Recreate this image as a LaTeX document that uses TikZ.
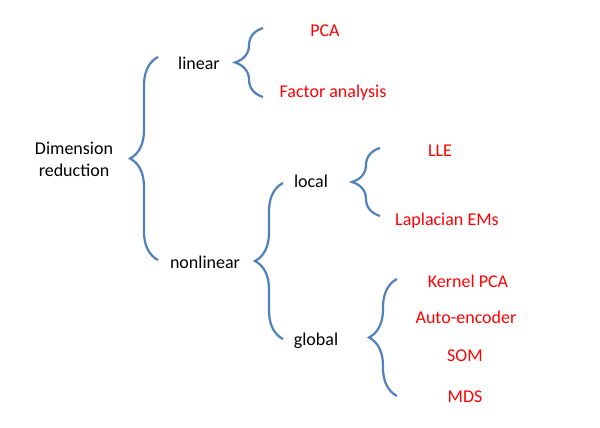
\documentclass[tikz,border=0pt]{standalone}
\usepackage{fontspec}
\setmainfont{Carlito}
\usetikzlibrary{positioning,decorations.pathreplacing}

\definecolor{braceblue}{RGB}{79,129,189}
\definecolor{methodred}{RGB}{255,0,0}

\tikzset{
  item/.style={font=\fontsize{18}{22}\selectfont, align=center, inner sep=0pt},
  method/.style={item, text=methodred},
  brc/.style={draw=braceblue, line width=2.2pt, decorate,
    decoration={brace, amplitude=28pt}},
}

\begin{document}
\begin{tikzpicture}[x=1pt, y=-1pt]
    \useasboundingbox (0,0) rectangle (600,428);

    % Labels
    % ---------------------
    \node[item] (dimred) at (74,159) {Dimension\\reduction};
    \node[item] (linear) at (199,63) {linear};
    \node[item] (nonlinear) at (205,262) {nonlinear};
    \node[item] (local) at (311,181) {local};
    \node[item] (global) at (316,341) {global};

    % Methods
    % ---------------------
    \node[method] (pca) at (325,31) {PCA};
    \node[method] (factor) at (333,93) {Factor analysis};
    \node[method] (lle) at (440,151) {LLE};
    \node[method] (laplace) at (447,221) {Laplacian EMs};
    \node[method] (kpca) at (468,281) {Kernel PCA};
    \node[method] (autoenc) at (466,317) {Auto-encoder};
    \node[method] (som) at (465,356) {SOM};
    \node[method] (mds) at (465,397) {MDS};

    % Braces
    % ---------------------
    \coordinate (dimT) at (158,57);
    \coordinate (dimB) at (158,260);
    \coordinate (linT) at (263,28);
    \coordinate (linB) at (263,97);
    \coordinate (nonT) at (283,183);
    \coordinate (nonB) at (283,339);
    \coordinate (locT) at (380,148);
    \coordinate (locB) at (380,216);
    \coordinate (gloT) at (397,279);
    \coordinate (gloB) at (397,396);

    \draw[brc] (dimB) -- (dimT);
    \draw[brc] (linB) -- (linT);
    \draw[brc] (nonB) -- (nonT);
    \draw[brc] (locB) -- (locT);
    \draw[brc] (gloB) -- (gloT);
\end{tikzpicture}
\end{document}
